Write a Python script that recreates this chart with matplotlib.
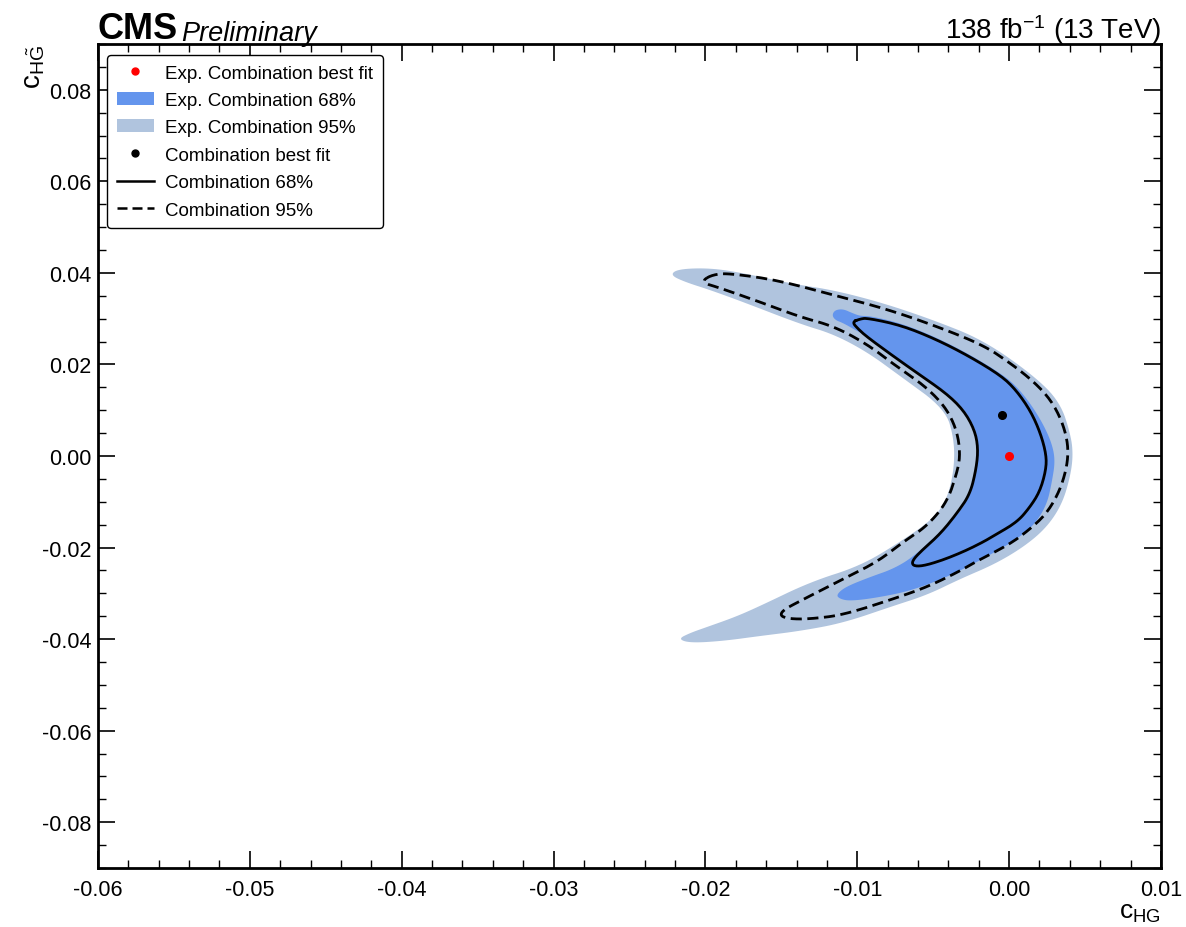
import numpy as np
import matplotlib
matplotlib.use("Agg")
import matplotlib.pyplot as plt
from matplotlib.patches import Patch
from matplotlib.lines import Line2D
from matplotlib.ticker import MultipleLocator

plt.rcParams["font.family"] = ["Liberation Sans", "DejaVu Sans"]
plt.rcParams["mathtext.fontset"] = "custom"
plt.rcParams["mathtext.rm"] = "Liberation Sans"
plt.rcParams["mathtext.it"] = "Liberation Sans:italic"
plt.rcParams["mathtext.default"] = "regular"

# contour outlines, units of 1e-3 (cHG, cHGtilde)
exp95_x = [-22.32, -21.80, -19.69, -17.52, -14.22, -11.59, -8.30, -5.00, -1.71, 1.58,
           3.36, 4.08, 4.21, 4.02, 3.49, 2.50, 1.05, -0.92, -3.23, -5.40,
           -7.64, -10.93, -13.76, -16.40, -18.83, -21.01, -21.80, -21.01, -19.89, -18.04,
           -16.40, -13.10, -9.81, -7.18, -5.00, -4.08, -3.62, -3.62, -4.21, -7.18,
           -9.35, -11.59, -13.76, -17.52, -19.69, -21.34]
exp95_y = [39.54, 40.85, 41.07, 39.97, 37.57, 36.26, 33.42, 29.71, 25.34, 17.69,
           11.80, 4.37, 0.00, -4.59, -10.48, -15.51, -19.66, -23.59, -26.87, -30.36,
           -32.77, -36.48, -38.23, -39.32, -40.41, -40.85, -39.97, -38.66, -37.35, -35.17,
           -32.77, -27.52, -24.03, -18.79, -13.76, -9.39, -2.84, 3.71, 10.27, 17.47,
           22.72, 26.65, 28.83, 33.64, 36.26, 38.01]

exp68_x = [-11.66, -11.46, -10.93, -10.34, -9.81, -9.15, -7.18, -5.00, -2.77, -0.59,
           0.40, 1.38, 2.24, 2.83, 3.03, 2.83, 2.50, 1.71, 0.53, -0.92,
           -2.37, -4.08, -6.52, -8.82, -10.47, -11.13, -11.39, -10.80, -9.15, -7.64,
           -6.32, -4.54, -3.23, -2.57, -2.11, -2.04, -2.25, -2.95, -4.10, -6.06,
           -7.64, -9.35, -10.01, -10.93, -11.46]
exp68_y = [30.80, 31.89, 32.11, 31.24, 30.58, 30.58, 29.05, 26.21, 22.50, 18.13,
           15.51, 11.58, 6.99, 2.62, -1.09, -5.46, -10.48, -14.85, -18.13, -20.97,
           -23.59, -26.43, -29.49, -31.02, -31.67, -31.24, -30.36, -28.62, -26.43, -24.68,
           -22.06, -16.60, -12.23, -8.30, -2.18, 2.50, 6.20, 10.20, 13.90, 18.35,
           21.84, 26.21, 27.30, 29.05, 29.71]

obs95_x = [-20.15, -19.56, -18.57, -15.28, -11.59, -8.30, -5.00, -1.71, 0.07, 1.58,
           2.70, 3.42, 3.82, 3.89, 3.69, 3.23, 2.44, 1.38, 0.07, -2.11,
           -3.23, -5.40, -7.64, -10.93, -13.10, -14.42, -15.08, -14.88, -13.76, -10.93,
           -8.69, -6.98, -5.40, -4.08, -3.42, -3.23, -3.36, -3.82, -4.54, -5.73,
           -7.18, -9.35, -11.59, -13.76, -16.40, -19.23, -19.95]
obs95_y = [38.44, 39.54, 39.97, 38.44, 35.17, 32.33, 28.62, 24.25, 20.31, 16.38,
           12.45, 8.08, 3.71, 0.00, -3.93, -8.30, -12.67, -15.95, -19.22, -22.94,
           -25.12, -28.62, -31.24, -34.73, -35.60, -35.60, -34.95, -33.64, -31.67, -26.87,
           -23.15, -18.79, -15.29, -10.05, -3.49, 0.00, 4.37, 8.52, 12.01, 15.73,
           19.00, 24.46, 28.40, 30.36, 33.64, 36.92, 37.57]

obs68_x = [-10.34, -9.81, -9.35, -7.18, -5.00, -2.77, -0.59, 0.40, 1.38, 2.04,
           2.44, 2.44, 2.04, 1.38, 0.53, -0.92, -1.71, -2.90, -4.35, -5.66,
           -6.32, -6.39, -5.86, -4.54, -3.42, -2.57, -2.17, -2.04, -2.25, -2.95,
           -4.10, -6.06, -7.64, -9.35, -9.94]
obs68_y = [29.27, 29.93, 30.14, 28.62, 25.78, 22.06, 17.69, 14.64, 10.05, 5.24,
           0.44, -2.84, -7.65, -11.14, -14.42, -17.26, -18.79, -20.75, -22.72, -24.03,
           -24.03, -22.94, -20.97, -17.04, -12.45, -8.30, -2.84, 1.53, 5.50, 9.80,
           13.60, 18.13, 21.84, 25.99, 27.74]

exp_best = (0.0, 0.0)
obs_best = (-0.00046, 0.0090)


def smooth_closed(xs, ys, n_iter=3):
    # Chaikin corner cutting on a closed outline
    pts = np.column_stack([xs, ys]) * 1e-3
    for _ in range(n_iter):
        nxt = np.roll(pts, -1, axis=0)
        q = 0.75 * pts + 0.25 * nxt
        r = 0.25 * pts + 0.75 * nxt
        pts = np.empty((2 * len(q), 2))
        pts[0::2] = q
        pts[1::2] = r
    pts = np.vstack([pts, pts[:1]])
    return pts[:, 0], pts[:, 1]


fig = plt.figure(figsize=(11.86, 9.28), dpi=100)
ax = fig.add_axes([0.0826, 0.0636, 0.8963, 0.8879])

light = "#b0c4de"
dark = "#6495ed"

x, y = smooth_closed(exp95_x, exp95_y)
ax.fill(x, y, color=light, lw=0)
x, y = smooth_closed(exp68_x, exp68_y)
ax.fill(x, y, color=dark, lw=0)
x, y = smooth_closed(obs95_x, obs95_y)
ax.plot(x, y, color="black", lw=2, ls=(0, (4, 2)))
x, y = smooth_closed(obs68_x, obs68_y)
ax.plot(x, y, color="black", lw=2)

ax.plot(*exp_best, "o", color="red", ms=5.5)
ax.plot(*obs_best, "o", color="black", ms=5.5)

ax.set_xlim(-0.06, 0.01)
ax.set_ylim(-0.09, 0.09)
ax.set_xticks(np.arange(-0.06, 0.0101, 0.01))
ax.set_xticklabels(["-0.06", "-0.05", "-0.04", "-0.03", "-0.02", "-0.01", "0.00", "0.01"])
ax.set_yticks(np.arange(-0.08, 0.081, 0.02))
ax.set_yticklabels(["-0.08", "-0.06", "-0.04", "-0.02", "0.00", "0.02", "0.04", "0.06", "0.08"])
ax.xaxis.set_minor_locator(MultipleLocator(0.002))
ax.yaxis.set_minor_locator(MultipleLocator(0.005))
ax.tick_params(which="both", direction="in", top=True, right=True, labelsize=15.5)
ax.tick_params(which="major", length=12, width=1.2)
ax.tick_params(axis="y", which="major", pad=5)
ax.tick_params(axis="x", which="major", pad=8)
ax.tick_params(which="minor", length=6, width=1.0)
for s in ax.spines.values():
    s.set_linewidth(2)

ax.set_xlabel(r"$\mathrm{c}_{\mathrm{HG}}$", fontsize=19, loc="right", labelpad=0)
ax.set_ylabel(r"$\mathrm{c}_{\mathrm{H}\tilde{\mathrm{G}}}$", fontsize=20, loc="top", labelpad=-4)

ax.text(0.0, 0.998, "CMS", transform=ax.transAxes, fontsize=26, fontweight="bold",
        va="bottom", ha="left")
ax.text(0.078, 0.998, "Preliminary", transform=ax.transAxes, fontsize=19.5, style="italic",
        va="bottom", ha="left")
ax.text(1.0, 0.998, r"138 fb$^{-1}$ (13 TeV)", transform=ax.transAxes, fontsize=20,
        va="bottom", ha="right")

handles = [
    Line2D([], [], ls="none", marker="o", color="red", ms=5),
    Patch(facecolor=dark, edgecolor="none"),
    Patch(facecolor=light, edgecolor="none"),
    Line2D([], [], ls="none", marker="o", color="black", ms=5),
    Line2D([], [], color="black", lw=1.8),
    Line2D([], [], color="black", lw=1.8, ls=(0, (4, 2))),
]
labels = ["Exp. Combination best fit", "Exp. Combination 68%", "Exp. Combination 95%",
          "Combination best fit", "Combination 68%", "Combination 95%"]
leg = ax.legend(handles, labels, loc="upper left", fontsize=13.5, frameon=True,
                fancybox=True, edgecolor="black", framealpha=1, handlelength=2.0,
                handletextpad=0.6, labelspacing=0.55, borderpad=0.5,
                bbox_to_anchor=(0.0, 0.998))
leg.get_frame().set_linewidth(1.0)

fig.savefig("out.png", dpi=100)
